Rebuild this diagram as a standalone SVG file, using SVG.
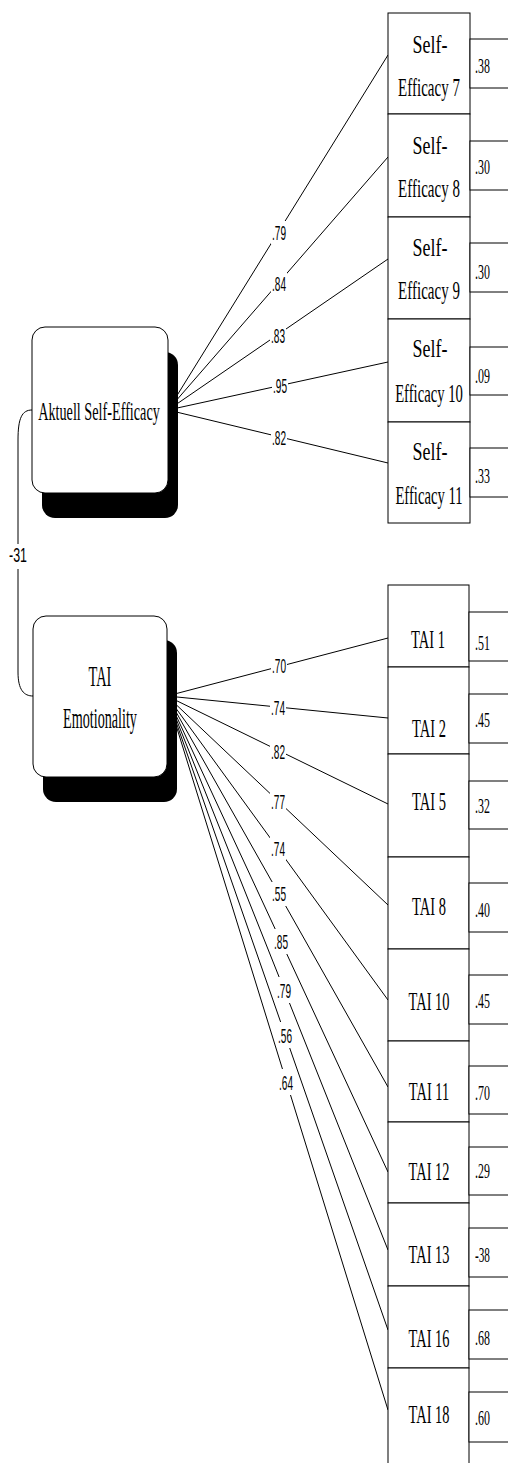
<svg xmlns="http://www.w3.org/2000/svg" width="508" height="1463" viewBox="0 0 508 1463">
  <style>
    .bg { fill: #ffffff; }
    .box { fill: #ffffff; stroke: #000000; stroke-width: 1; }
    .shadow { fill: #000000; stroke: none; }
    .path { fill: none; stroke: #000000; stroke-width: 1; }
    .knock { fill: #ffffff; stroke: none; }
    .serif { font-family: "Liberation Serif", "Times New Roman", serif; fill: #000000; text-anchor: middle; }
    .item { font-size: 25px; }
    .latent1 { font-size: 26px; }
    .latent2 { font-size: 30px; }
    .res { font-family: "Liberation Serif", "Times New Roman", serif; font-size: 21px; fill: #000000; }
    .coef { font-family: "Liberation Sans", Arial, sans-serif; font-size: 21px; fill: #000000; text-anchor: middle; }
  </style>

  <rect class="bg" x="0" y="0" width="508" height="1463"/>

  <!-- loadings, correlation and their coefficient labels -->
  <g id="connectors">
    <!-- Aktuell Self-Efficacy -> items -->
    <line class="path" x1="168" y1="410" x2="388" y2="55"/>
    <line class="path" x1="168" y1="410" x2="388" y2="157"/>
    <line class="path" x1="168" y1="410" x2="388" y2="259"/>
    <line class="path" x1="168" y1="410" x2="388" y2="362"/>
    <line class="path" x1="168" y1="410" x2="388" y2="463"/>
    <!-- TAI Emotionality -> items -->
    <line class="path" x1="167" y1="696" x2="388" y2="638"/>
    <line class="path" x1="167" y1="696" x2="388" y2="718"/>
    <line class="path" x1="167" y1="696" x2="388" y2="804"/>
    <line class="path" x1="167" y1="696" x2="388" y2="905"/>
    <line class="path" x1="167" y1="696" x2="388" y2="1000"/>
    <line class="path" x1="167" y1="696" x2="388" y2="1087"/>
    <line class="path" x1="167" y1="696" x2="388" y2="1172"/>
    <line class="path" x1="167" y1="696" x2="388" y2="1250"/>
    <line class="path" x1="167" y1="696" x2="388" y2="1330"/>
    <line class="path" x1="167" y1="696" x2="388" y2="1410"/>
    <!-- correlation between the two factors -->
    <path class="path" d="M32,410 C22,410 18,418 18,440 L18,672 C18,690 24,696 33,696"/>

    <!-- coefficient labels, each on a white patch that breaks its line -->
    <rect class="knock" x="8" y="544" width="21" height="25"/>
    <text class="coef" transform="translate(18,562) scale(0.59,1)">-31</text>

    <rect class="knock" x="271" y="221" width="16" height="23"/>
    <text class="coef" transform="translate(279,240) scale(0.48,1)">.79</text>
    <rect class="knock" x="271" y="272" width="16" height="23"/>
    <text class="coef" transform="translate(279,291) scale(0.48,1)">.84</text>
    <rect class="knock" x="270" y="324" width="16" height="23"/>
    <text class="coef" transform="translate(278,343) scale(0.48,1)">.83</text>
    <rect class="knock" x="272" y="376" width="16" height="19"/>
    <text class="coef" transform="translate(280,393) scale(0.48,1)">.95</text>
    <rect class="knock" x="271" y="428" width="16" height="19"/>
    <text class="coef" transform="translate(279,445) scale(0.48,1)">.82</text>

    <rect class="knock" x="271" y="656" width="16" height="20"/>
    <text class="coef" transform="translate(279,673) scale(0.48,1)">.70</text>
    <rect class="knock" x="270" y="697" width="16" height="20"/>
    <text class="coef" transform="translate(278,715) scale(0.48,1)">.74</text>
    <rect class="knock" x="270" y="740" width="16" height="22"/>
    <text class="coef" transform="translate(278,759) scale(0.48,1)">.82</text>
    <rect class="knock" x="270" y="789" width="16" height="23"/>
    <text class="coef" transform="translate(278,809) scale(0.48,1)">.77</text>
    <rect class="knock" x="270" y="836" width="16" height="24"/>
    <text class="coef" transform="translate(278,856) scale(0.48,1)">.74</text>
    <rect class="knock" x="271" y="882" width="16" height="24"/>
    <text class="coef" transform="translate(279,901) scale(0.48,1)">.55</text>
    <rect class="knock" x="273" y="929" width="16" height="25"/>
    <text class="coef" transform="translate(281,949) scale(0.48,1)">.85</text>
    <rect class="knock" x="276" y="977" width="16" height="26"/>
    <text class="coef" transform="translate(284,998) scale(0.48,1)">.79</text>
    <rect class="knock" x="277" y="1022" width="16" height="26"/>
    <text class="coef" transform="translate(285,1043) scale(0.48,1)">.56</text>
    <rect class="knock" x="278" y="1069" width="16" height="26"/>
    <text class="coef" transform="translate(286,1090) scale(0.48,1)">.64</text>
  </g>

  <!-- latent factors -->
  <g id="aktuell-self-efficacy">
    <rect class="shadow" x="42" y="352" width="136" height="166" rx="13" ry="13"/>
    <rect class="box" x="32" y="327" width="136" height="166" rx="13" ry="13"/>
    <text class="serif latent1" transform="translate(99,420) scale(0.547,1)">Aktuell Self-Efficacy</text>
  </g>

  <g id="tai-emotionality">
    <rect class="shadow" x="43" y="640" width="134" height="162" rx="13" ry="13"/>
    <rect class="box" x="33" y="616" width="134" height="161" rx="13" ry="13"/>
    <text class="serif latent2" transform="translate(100,686) scale(0.48,1)">TAI</text>
    <text class="serif latent2" transform="translate(100,728) scale(0.472,1)">Emotionality</text>
  </g>

  <!-- Self-Efficacy indicators with residual boxes -->
  <g id="se7">
    <rect class="box" x="388" y="13" width="82" height="101"/>
    <text class="serif item" transform="translate(430,53) scale(0.72,1)">Self-</text>
    <text class="serif item" transform="translate(429,96) scale(0.6,1)">Efficacy 7</text>
    <rect class="box" x="470" y="39" width="50" height="49"/>
    <text class="res" transform="translate(475,73) scale(0.57,1)">.38</text>
  </g>
  <g id="se8">
    <rect class="box" x="388" y="114" width="82" height="103"/>
    <text class="serif item" transform="translate(430,154) scale(0.72,1)">Self-</text>
    <text class="serif item" transform="translate(429,197) scale(0.6,1)">Efficacy 8</text>
    <rect class="box" x="470" y="141" width="50" height="49"/>
    <text class="res" transform="translate(475,174) scale(0.57,1)">.30</text>
  </g>
  <g id="se9">
    <rect class="box" x="388" y="217" width="82" height="102"/>
    <text class="serif item" transform="translate(430,256) scale(0.72,1)">Self-</text>
    <text class="serif item" transform="translate(429,299) scale(0.6,1)">Efficacy 9</text>
    <rect class="box" x="470" y="243" width="50" height="49"/>
    <text class="res" transform="translate(475,279) scale(0.57,1)">.30</text>
  </g>
  <g id="se10">
    <rect class="box" x="388" y="319" width="82" height="103"/>
    <text class="serif item" transform="translate(430,357) scale(0.72,1)">Self-</text>
    <text class="serif item" transform="translate(429,402) scale(0.587,1)">Efficacy 10</text>
    <rect class="box" x="470" y="347" width="50" height="48"/>
    <text class="res" transform="translate(475,383) scale(0.57,1)">.09</text>
  </g>
  <g id="se11">
    <rect class="box" x="388" y="422" width="82" height="101"/>
    <text class="serif item" transform="translate(430,460) scale(0.72,1)">Self-</text>
    <text class="serif item" transform="translate(429,504) scale(0.587,1)">Efficacy 11</text>
    <rect class="box" x="470" y="448" width="50" height="49"/>
    <text class="res" transform="translate(475,483) scale(0.57,1)">.33</text>
  </g>

  <!-- TAI indicators with residual boxes -->
  <g id="tai1">
    <rect class="box" x="388" y="585" width="81" height="82"/>
    <text class="serif item" transform="translate(428,648) scale(0.58,1)">TAI 1</text>
    <rect class="box" x="469" y="612" width="50" height="49"/>
    <text class="res" transform="translate(475,650) scale(0.57,1)">.51</text>
  </g>
  <g id="tai2">
    <rect class="box" x="388" y="667" width="81" height="87"/>
    <text class="serif item" transform="translate(429,737) scale(0.58,1)">TAI 2</text>
    <rect class="box" x="469" y="694" width="50" height="49"/>
    <text class="res" transform="translate(475,727) scale(0.57,1)">.45</text>
  </g>
  <g id="tai5">
    <rect class="box" x="388" y="754" width="81" height="103"/>
    <text class="serif item" transform="translate(429,810) scale(0.58,1)">TAI 5</text>
    <rect class="box" x="469" y="781" width="50" height="48"/>
    <text class="res" transform="translate(475,813) scale(0.57,1)">.32</text>
  </g>
  <g id="tai8">
    <rect class="box" x="388" y="857" width="81" height="92"/>
    <text class="serif item" transform="translate(429,915) scale(0.58,1)">TAI 8</text>
    <rect class="box" x="469" y="883" width="50" height="49"/>
    <text class="res" transform="translate(475,917) scale(0.57,1)">.40</text>
  </g>
  <g id="tai10">
    <rect class="box" x="388" y="949" width="81" height="92"/>
    <text class="serif item" transform="translate(429,1010) scale(0.576,1)">TAI 10</text>
    <rect class="box" x="469" y="975" width="50" height="49"/>
    <text class="res" transform="translate(475,1008) scale(0.57,1)">.45</text>
  </g>
  <g id="tai11">
    <rect class="box" x="388" y="1041" width="81" height="81"/>
    <text class="serif item" transform="translate(429,1100) scale(0.576,1)">TAI 11</text>
    <rect class="box" x="469" y="1066" width="50" height="48"/>
    <text class="res" transform="translate(475,1100) scale(0.57,1)">.70</text>
  </g>
  <g id="tai12">
    <rect class="box" x="388" y="1122" width="81" height="81"/>
    <text class="serif item" transform="translate(429,1180) scale(0.576,1)">TAI 12</text>
    <rect class="box" x="469" y="1147" width="50" height="48"/>
    <text class="res" transform="translate(475,1178) scale(0.57,1)">.29</text>
  </g>
  <g id="tai13">
    <rect class="box" x="388" y="1203" width="81" height="83"/>
    <text class="serif item" transform="translate(429,1263) scale(0.576,1)">TAI 13</text>
    <rect class="box" x="469" y="1228" width="50" height="49"/>
    <text class="res" transform="translate(475,1262) scale(0.536,1)">-38</text>
  </g>
  <g id="tai16">
    <rect class="box" x="388" y="1286" width="81" height="82"/>
    <text class="serif item" transform="translate(429,1347) scale(0.576,1)">TAI 16</text>
    <rect class="box" x="469" y="1310" width="50" height="49"/>
    <text class="res" transform="translate(475,1345) scale(0.57,1)">.68</text>
  </g>
  <g id="tai18">
    <rect class="box" x="388" y="1368" width="81" height="110"/>
    <text class="serif item" transform="translate(429,1423) scale(0.576,1)">TAI 18</text>
    <rect class="box" x="469" y="1392" width="50" height="50"/>
    <text class="res" transform="translate(475,1425) scale(0.57,1)">.60</text>
  </g>
</svg>
